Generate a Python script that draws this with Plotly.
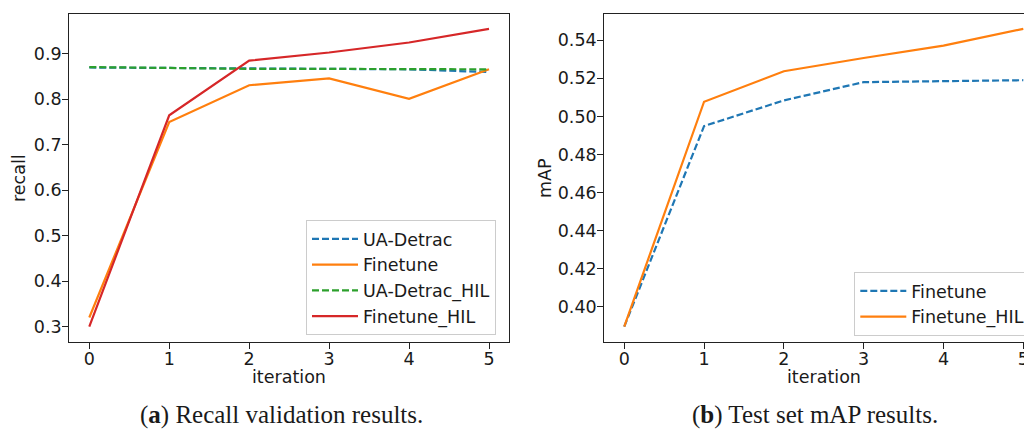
import plotly.graph_objects as go

iterations = [0, 1, 2, 3, 4, 5]

# Left panel: recall validation
recall_ua_detrac = [0.870, 0.869, 0.867, 0.867, 0.866, 0.860]
recall_finetune = [0.320, 0.750, 0.831, 0.846, 0.801, 0.866]
recall_ua_detrac_hil = [0.871, 0.869, 0.867, 0.867, 0.867, 0.866]
recall_finetune_hil = [0.300, 0.765, 0.885, 0.903, 0.925, 0.955]

# Right panel: test set mAP
map_finetune = [0.3895, 0.4949, 0.5084, 0.5180, 0.5185, 0.5190]
map_finetune_hil = [0.3895, 0.5077, 0.5237, 0.5307, 0.5372, 0.5460]

recall_ticks = [0.3, 0.4, 0.5, 0.6, 0.7, 0.8, 0.9]
map_ticks = [0.40, 0.42, 0.44, 0.46, 0.48, 0.50, 0.52, 0.54]

BLUE = "#1f77b4"
ORANGE = "#ff7f0e"
GREEN = "#2ca02c"
RED = "#d62728"
FONT = "DejaVu Sans"
FS = 17.5
OFF = 8  # page body margin
W, H = 1032 - OFF, 432 - OFF
LW = 2.2
DASH = "7px,3px"

fig = go.Figure()

left = [
    ("UA-Detrac", recall_ua_detrac, BLUE, DASH),
    ("Finetune", recall_finetune, ORANGE, "solid"),
    ("UA-Detrac_HIL", recall_ua_detrac_hil, GREEN, DASH),
    ("Finetune_HIL", recall_finetune_hil, RED, "solid"),
]
for name, ys, col, dash in left:
    fig.add_trace(go.Scatter(x=iterations, y=ys, mode="lines", name=name,
                             line=dict(color=col, width=LW, dash=dash),
                             xaxis="x", yaxis="y", legend="legend"))

right = [
    ("Finetune", map_finetune, BLUE, DASH),
    ("Finetune_HIL", map_finetune_hil, ORANGE, "solid"),
]
for name, ys, col, dash in right:
    fig.add_trace(go.Scatter(x=iterations, y=ys, mode="lines", name=name,
                             line=dict(color=col, width=LW, dash=dash),
                             xaxis="x2", yaxis="y2", legend="legend2"))

def px_x(p):
    return (p - OFF) / W

def px_y(p):
    return 1 - (p - OFF) / H

axis_common = dict(
    showgrid=False, zeroline=False, showline=True, linecolor="#222222", linewidth=1.2,
    ticks="outside", ticklen=6, tickwidth=1.2, tickcolor="#222222",
    tickfont=dict(family=FONT, size=FS, color="#1a1a1a"),
)

y_dom = [px_y(341.5), px_y(14)]

fig.update_layout(
    width=W, height=H,
    margin=dict(l=0, r=0, t=0, b=0, autoexpand=False),
    paper_bgcolor="white", plot_bgcolor="white",
    showlegend=True,
    xaxis=dict(domain=[px_x(69.3), px_x(509)], range=[-0.25, 5.25],
               tickvals=iterations, mirror=True, anchor="y",
               ticklabelstandoff=-5, **axis_common),
    yaxis=dict(domain=y_dom, range=[0.2673, 0.9877], tickvals=recall_ticks,
               tickformat=".1f", mirror=True, anchor="x",
               ticklabelstandoff=-3, **axis_common),
    xaxis2=dict(domain=[px_x(604.3), 1.0], range=[-0.25, 5.109],
                tickvals=iterations, mirror=True, anchor="y2",
                ticklabelstandoff=-5, **axis_common),
    yaxis2=dict(domain=y_dom, range=[0.3817, 0.5538], tickvals=map_ticks,
                tickformat=".2f", mirror=False, anchor="x2",
                ticklabelstandoff=-3, **axis_common),
    legend=dict(x=px_x(306), y=px_y(220), xanchor="left", yanchor="top",
                bgcolor="white", bordercolor="#cccccc", borderwidth=1,
                font=dict(family=FONT, size=FS, color="#1a1a1a"),
                itemwidth=46, tracegroupgap=0),
    legend2=dict(x=px_x(854.3), y=px_y(272), xanchor="left", yanchor="top",
                 bgcolor="white", bordercolor="#cccccc", borderwidth=1,
                 font=dict(family=FONT, size=FS, color="#1a1a1a"),
                 itemwidth=46, tracegroupgap=0),
)

annots = [
    dict(text="recall", x=px_x(19), y=px_y(178), textangle=-90),
    dict(text="mAP", x=px_x(545), y=px_y(178), textangle=-90),
    dict(text="iteration", x=px_x(289), y=px_y(377)),
    dict(text="iteration", x=px_x(823.5), y=px_y(377)),
]
for a in annots:
    fig.add_annotation(xref="paper", yref="paper", showarrow=False,
                       xanchor="center", yanchor="middle",
                       font=dict(family=FONT, size=FS, color="#1a1a1a"), **a)

captions = [
    ("(<b>a</b>) Recall validation results.", 281),
    ("(<b>b</b>) Test set mAP results.", 814.7),
]
for txt, cx in captions:
    fig.add_annotation(xref="paper", yref="paper", showarrow=False,
                       x=px_x(cx), y=px_y(415), xanchor="center", yanchor="middle",
                       text=txt, font=dict(family="Liberation Serif", size=25, color="#1a1a1a"))

fig.write_html("out.html")
